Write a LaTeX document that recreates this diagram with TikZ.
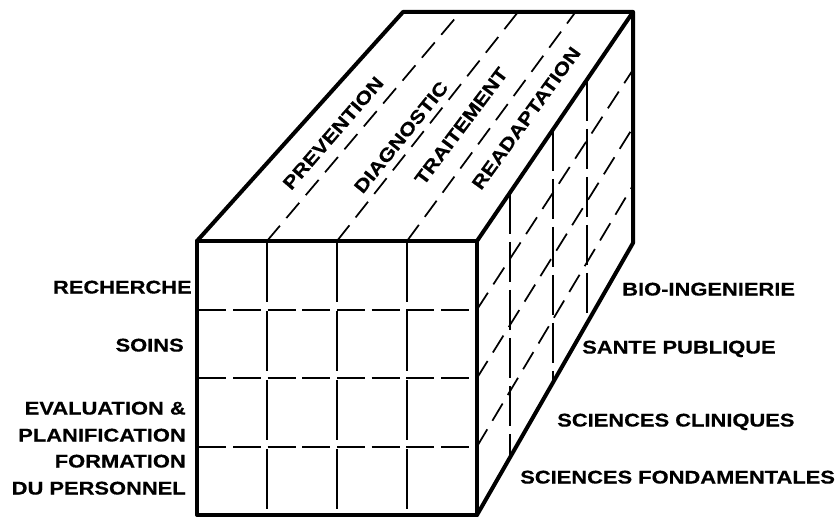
\documentclass[tikz,border=0pt]{standalone}
\usepackage{fontspec}
\newfontfamily\labfont[FakeStretch=1.19,BoldFeatures={FakeBold=0.5}]{Liberation Sans}
\usepackage{tikz}
\usetikzlibrary{calc}

\begin{document}
\begin{tikzpicture}[x=0.75pt,y=0.75pt,yscale=-1,xscale=1,
  edge/.style={line width=3pt, line join=round, line cap=round},
  hgrid/.style={line width=1.5pt, dash pattern=on 21pt off 5pt, dash phase=-1pt},
  vgrid/.style={line width=1.5pt, dash pattern=on 45pt off 6.75pt, dash phase=-1pt},
  hatch/.style={line width=1.3pt, dash pattern=on 15pt off 7.5pt},
  lab/.style={inner sep=0pt, text height=9.8pt, text depth=0pt, font=\labfont\bfseries\fontsize{13.8}{16}\selectfont}]

\useasboundingbox (0,0) rectangle (840,517);

% corners of the block
\coordinate (FTL) at (197,241);
\coordinate (FTR) at (477,241);
\coordinate (FBL) at (197,515);
\coordinate (FBR) at (477,515);
\coordinate (BTL) at (403,12);
\coordinate (BTR) at (633,12);
\coordinate (BBR) at (633,243);

% front grid
\foreach \t in {0.25,0.5,0.75} {
  \draw [vgrid] ($(FTL)!\t!(FTR)$) -- ($(FBL)!\t!(FBR)$) ;
  \draw [hgrid] ($(FTL)!\t!(FBL)$) -- ($(FTR)!\t!(FBR)$) ;
}

% top dividers
\foreach \t in {0.25,0.5,0.75}
  \draw [hatch] ($(FTL)!\t!(FTR)$) -- ($(BTL)!\t!(BTR)$) ;

% right face
\foreach \t in {0.2115,0.487,0.705}
  \draw [vgrid, dash pattern=on 30pt off 6pt] ($(FTR)!\t!(BTR)$) -- ($(FBR)!\t!(BBR)$) ;
\foreach \t in {0.25,0.5,0.75}
  \draw [hatch] ($(FTR)!\t!(FBR)$) -- ($(BTR)!\t!(BBR)$) ;

% outline
\draw [edge] (FTL) -- (FTR) -- (FBR) -- (FBL) -- cycle ;
\draw [edge] (FTL) -- (BTL) -- (BTR) -- (FTR) ;
\draw [edge] (BTR) -- (BBR) -- (FBR) ;

% top labels
\node [lab, rotate=49] (prev) at (333,133) {PREVENTION};
\node [lab, rotate=51] (diag) at (401,137) {DIAGNOSTIC};
\node [lab, rotate=53] (trait) at (461,126) {TRAITEMENT};
\node [lab, rotate=54] (read) at (526,118) {READAPTATION};

% left labels
\node [lab, anchor=east] (rech) at (192,287) {RECHERCHE};
\node [lab, anchor=east] (soins) at (184,345) {SOINS};
\node [lab, anchor=east] (eval) at (186,408) {EVALUATION \&};
\node [lab, anchor=east] (plan) at (186,435) {PLANIFICATION};
\node [lab, anchor=east] (form) at (186,461) {FORMATION};
\node [lab, anchor=east] (pers) at (186,488) {DU PERSONNEL};

% right labels
\node [lab, anchor=west] (bio) at (622,289) {BIO-INGENIERIE};
\node [lab, anchor=west] (sante) at (582,347) {SANTE PUBLIQUE};
\node [lab, anchor=west] (clin) at (557,420) {SCIENCES CLINIQUES};
\node [lab, anchor=west] (fond) at (520,477) {SCIENCES FONDAMENTALES};

\end{tikzpicture}
\end{document}
